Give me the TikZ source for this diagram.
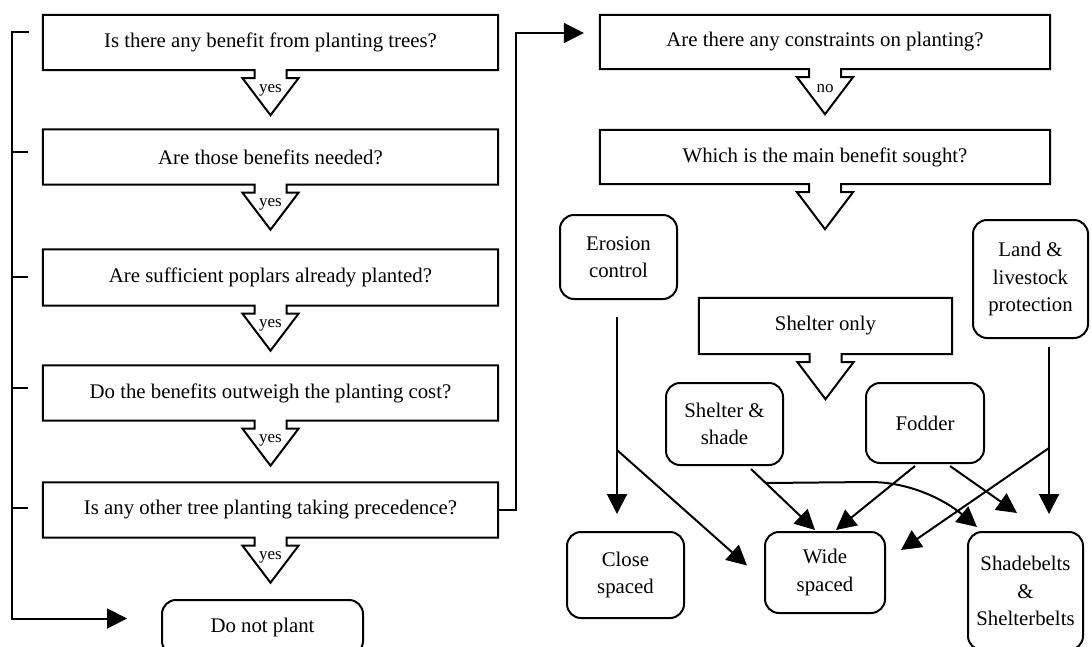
\documentclass[tikz,border=0pt]{standalone}
\usepackage{fontspec}
\setmainfont{Liberation Serif}
\usetikzlibrary{arrows.meta,calc}
\newcommand\qoutline[1]{%
  \draw[line width=2pt, line join=miter]
    (#1.north west) -- (#1.north east) -- (#1.south east)
    -- ($(#1.south)+(16,0)$) -- ($(#1.south)+(16,8)$) -- ($(#1.south)+(28,8)$)
    -- ($(#1.south)+(0,45)$)
    -- ($(#1.south)+(-28,8)$) -- ($(#1.south)+(-16,8)$) -- ($(#1.south)+(-16,0)$)
    -- (#1.south west) -- cycle;}
\begin{document}
\begin{tikzpicture}[x=1pt,y=-1pt,
  ln/.style={line width=2pt},
  qnode/.style={inner sep=0pt, font=\fontsize{20.8}{26}\selectfont},
  rbox/.style={draw, line width=2pt, rounded corners=14pt, inner sep=0pt, align=center,
    font=\fontsize{20.8}{27.5}\selectfont},
  lbl/.style={inner sep=0pt, font=\fontsize{17}{17}\selectfont},
  arr/.style={line width=2pt, -{Triangle[length=20pt,width=20pt]}},
]
\useasboundingbox (0,0) rectangle (1092,646);
\clip (0,0) rectangle (1092,646);

% left column questions
\node[qnode, minimum width=455pt, minimum height=55pt] (q1) at (270.5,42.5) {Is there any benefit from planting trees?};
\node[qnode, minimum width=455pt, minimum height=55pt] (q2) at (270.5,157) {Are those benefits needed?};
\node[qnode, minimum width=455pt, minimum height=56pt] (q3) at (270.5,277.5) {Are sufficient poplars already planted?};
\node[qnode, minimum width=455pt, minimum height=55pt] (q4) at (270.5,393) {Do the benefits outweigh the planting cost?};
\node[qnode, minimum width=455pt, minimum height=55pt] (q5) at (270.5,510) {Is any other tree planting taking precedence?};
\foreach \q in {q1,q2,q3,q4,q5}{\qoutline{\q}}
\node[lbl] (y1) at ($(q1.south)+(0,20)$) {yes};
\node[lbl] (y2) at ($(q2.south)+(0,20)$) {yes};
\node[lbl] (y3) at ($(q3.south)+(0,20)$) {yes};
\node[lbl] (y4) at ($(q4.south)+(0,20)$) {yes};
\node[lbl] (y5) at ($(q5.south)+(0,20)$) {yes};

\node[rbox, minimum width=201pt, minimum height=55pt] (dnp) at (262.5,627.5) {Do not plant};

% right column questions
\node[qnode, minimum width=450pt, minimum height=54pt] (r1) at (825,42) {Are there any constraints on planting?};
\node[qnode, minimum width=450pt, minimum height=54pt] (r2) at (825,157) {Which is the main benefit sought?};
\node[qnode, minimum width=253pt, minimum height=56pt] (so) at (825.5,326) {Shelter only};
\foreach \q in {r1,r2,so}{\qoutline{\q}}
\node[lbl] (n1) at ($(r1.south)+(0,19)$) {no};

% benefit boxes
\node[rbox, minimum width=117pt, minimum height=84pt] (er) at (618.5,257) {Erosion\\control};
\node[rbox, minimum width=115pt, minimum height=118pt] (ld) at (1030.5,279) {Land \&\\livestock\\protection};
\node[rbox, minimum width=117pt, minimum height=82pt] (ss) at (724.5,424) {Shelter \&\\shade};
\node[rbox, minimum width=118pt, minimum height=80pt] (fd) at (925,423) {Fodder};

% outcome boxes
\node[rbox, minimum width=117pt, minimum height=86pt] (cl) at (625.5,575) {Close\\spaced};
\node[rbox, minimum width=120pt, minimum height=81pt] (wd) at (825,572.5) {Wide\\spaced};
\node[rbox, minimum width=115pt, minimum height=118pt] (sb) at (1025.5,591) {Shadebelts\\\&\\Shelterbelts};

% left loop to "Do not plant"
\coordinate (ltop) at (29,32);
\draw[arr] (ltop) -- (12,32) |- ($(dnp.west)+(-34,-9)$);
\foreach \yy in {152,277,388,508}{\draw[ln] (12,\yy) -- (28,\yy);}

% link from last question to right column
\draw[arr] (q5.east) -| (516,33) -- ($(r1.west)+(-16,-9)$);

% erosion control
\coordinate (ex) at (617,317);
\coordinate (eb) at (617,450);
\draw[arr, shorten >=17pt] (ex) -- (ex |- cl.north);
\draw[arr] (eb) -- ($(wd.west)+(-17,-7)$);

% shelter & shade
\coordinate (cs) at (766,483);
\draw[arr] ($(ss.south)+(26.5,3)$) -- ($(wd.north)+(-10,-1)$);
\draw[arr] (cs) -- (870,482) .. controls (910,482) and (945,500) .. ($(sb.north west)+(10,-4)$);

% fodder
\draw[arr] ($(fd.south)+(-10,2)$) -- ($(wd.north)+(11,-1)$);
\draw[arr] ($(fd.south)+(25,2)$) -- ($(sb.north)+(-8.5,-18)$);

% land & livestock protection
\coordinate (lx) at (1049,347);
\coordinate (lb) at (1049,448);
\draw[arr, shorten >=17pt] (lx) -- (lx |- sb.north);
\draw[arr] (lb) -- ($(wd.east)+(15,-22.5)$);
\end{tikzpicture}
\end{document}
